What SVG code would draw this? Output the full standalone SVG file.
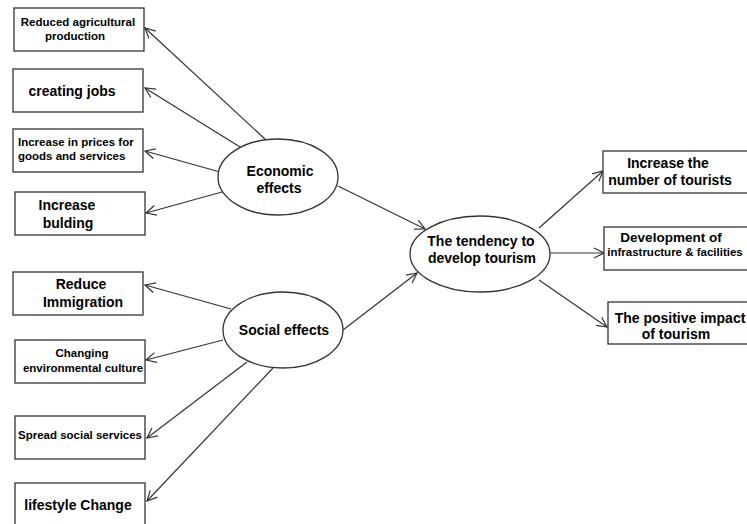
<svg xmlns="http://www.w3.org/2000/svg" width="747" height="524" viewBox="0 0 747 524">
<defs>
<marker id="arr" viewBox="0 0 12 12" refX="11" refY="6" markerWidth="12" markerHeight="12" markerUnits="userSpaceOnUse" orient="auto">
<path d="M1,1 L11,6 L1,11" fill="none" stroke="#333" stroke-width="1.2"/>
</marker>
<style>
.box{fill:#fff;stroke:#333;stroke-width:1.3}
.ell{fill:#fff;stroke:#333;stroke-width:1.3}
text{font-family:"Liberation Sans",Arial,sans-serif;font-weight:bold;fill:#000}
.l{font-size:14px}
.s{font-size:11.5px}
.m{font-size:13.5px}
.c{text-anchor:middle}
.con line{stroke:#333;stroke-width:1.2;marker-end:url(#arr)}
</style>
</defs>
<rect width="747" height="524" fill="#fff"/>
<g class="con">
<line x1="266" y1="140" x2="145" y2="28"/>
<line x1="240" y1="147" x2="145" y2="88"/>
<line x1="220" y1="172" x2="145" y2="151"/>
<line x1="222" y1="192" x2="146" y2="213"/>
<line x1="338" y1="186" x2="425" y2="229"/>
<line x1="343" y1="330" x2="417" y2="273"/>
<line x1="231" y1="309" x2="145" y2="285"/>
<line x1="223" y1="340" x2="146" y2="360"/>
<line x1="247" y1="362" x2="147" y2="438"/>
<line x1="273" y1="368" x2="147" y2="501"/>
<line x1="539" y1="228" x2="603" y2="171"/>
<line x1="550" y1="253" x2="604" y2="253"/>
<line x1="539" y1="280" x2="607" y2="327"/>
</g>
<g id="n1"><rect class="box" x="14" y="8" width="130" height="43"/><text class="s c" x="78" y="26">Reduced agricultural</text><text class="s c" x="75" y="40">production</text></g>
<g id="n2"><rect class="box" x="13" y="69" width="130" height="43"/><text class="l c" x="72" y="96">creating jobs</text></g>
<g id="n3"><rect class="box" x="13" y="129" width="130" height="43"/><text class="s" x="18" y="146">Increase in prices for</text><text class="s" x="18" y="160">goods and services</text></g>
<g id="n4"><rect class="box" x="15" y="192" width="130" height="43"/><text class="l c" x="67" y="210">Increase</text><text class="l c" x="68" y="228">bulding</text></g>
<g id="n5"><rect class="box" x="13" y="272" width="130" height="43"/><text class="l c" x="81" y="289">Reduce</text><text class="l c" x="83" y="307">Immigration</text></g>
<g id="n6"><rect class="box" x="15" y="340" width="130" height="43"/><text class="s c" x="82" y="357">Changing</text><text class="s c" x="83" y="372">environmental culture</text></g>
<g id="n7"><rect class="box" x="15" y="416" width="130" height="43"/><text class="s c" x="80" y="439">Spread social services</text></g>
<g id="n8"><rect class="box" x="15" y="483" width="130" height="50"/><text class="l c" x="78" y="510">lifestyle Change</text></g>
<g id="econ"><ellipse class="ell" cx="278" cy="177" rx="60" ry="38"/><text class="l c" x="280" y="176">Economic</text><text class="l c" x="279" y="193">effects</text></g>
<g id="social"><ellipse class="ell" cx="283" cy="330" rx="60" ry="38"/><text class="l c" x="284" y="335">Social effects</text></g>
<g id="tend"><ellipse class="ell" cx="480" cy="254" rx="70" ry="38"/><text class="l c" x="481" y="246">The tendency to</text><text class="l c" x="482" y="263">develop tourism</text></g>
<g id="r1"><rect class="box" x="603" y="151" width="146" height="42"/><text class="l c" x="668" y="168">Increase the</text><text class="l c" x="670" y="185">number of tourists</text></g>
<g id="r2"><rect class="box" x="604" y="227" width="145" height="43"/><text class="m c" x="671" y="242">Development of</text><text class="s c" x="675" y="256">infrastructure &amp; facilities</text></g>
<g id="r3"><rect class="box" x="608" y="302" width="141" height="42"/><text class="l c" x="680" y="323">The positive impact</text><text class="l c" x="676" y="339">of tourism</text></g>
</svg>
